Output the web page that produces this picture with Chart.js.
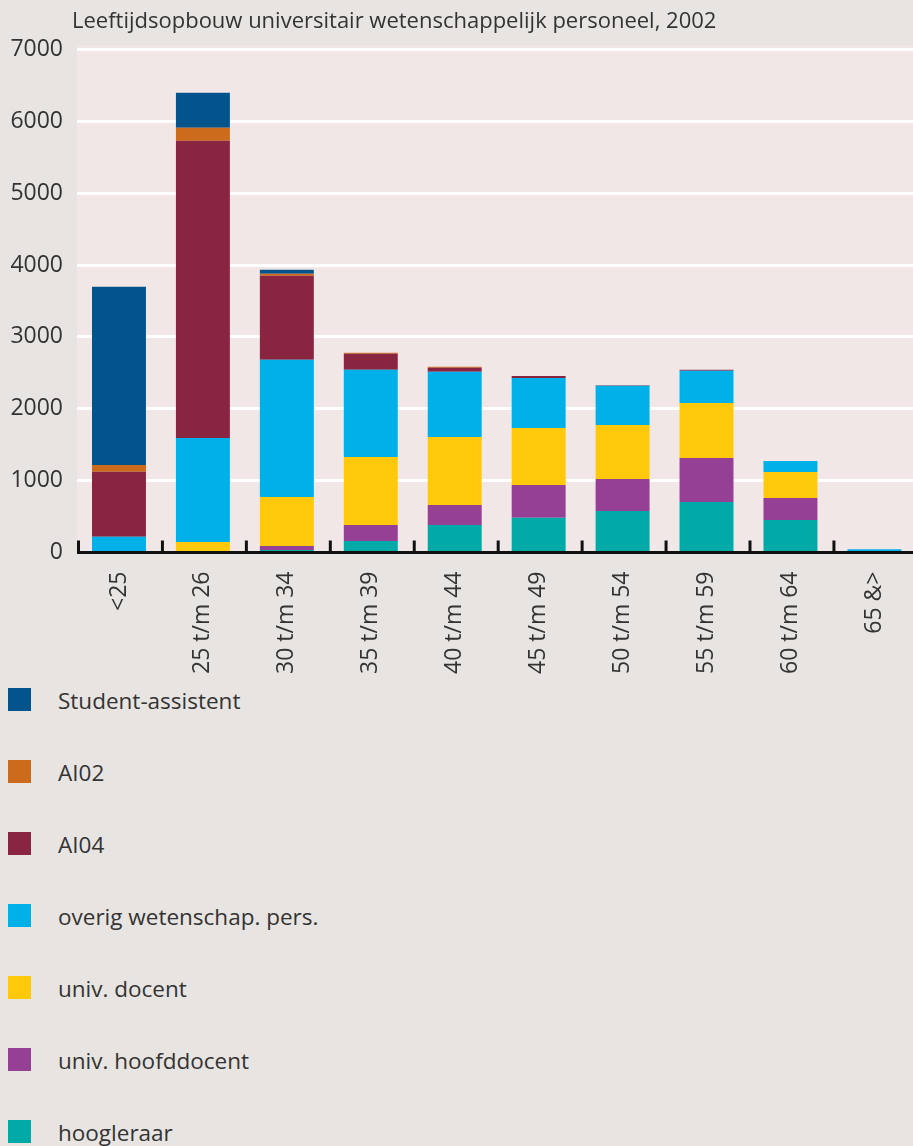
<!DOCTYPE html>
<html>
<head>
<meta charset="utf-8">
<script src="https://cdn.jsdelivr.net/npm/chart.js@4/dist/chart.umd.min.js"></script>
<style>
  html, body { margin: 0; padding: 0; background: #e8e4e1; overflow: hidden; width: 913px; height: 1146px; }
  #wrap { position: relative; width: 913px; height: 1146px; overflow: hidden; }
  #title { position: absolute; left: 72px; top: 4px; font-family: "Open Sans", sans-serif; font-size: 22px; color: #333; white-space: nowrap; }
  canvas { position: absolute; left: 0; top: 0; }
  #legend { position: absolute; left: 0; top: 0; font-family: "Open Sans", sans-serif; font-size: 22.5px; color: #333; }
  .li { position: absolute; left: 0; height: 24px; white-space: nowrap; }
  .sw { position: absolute; left: 8px; top: 0; width: 23px; height: 23px; }
  .tx { position: absolute; left: 58px; top: 0px; line-height: 26px; }
</style>
</head>
<body>
<div id="wrap">
  <canvas id="c" width="921" height="680"></canvas>
  <div id="title">Leeftijdsopbouw universitair wetenschappelijk personeel, 2002</div>
  <div id="legend"></div>
</div>
<script>
const categories = ['<25', '25 t/m 26', '30 t/m 34', '35 t/m 39', '40 t/m 44', '45 t/m 49', '50 t/m 54', '55 t/m 59', '60 t/m 64', '65 &>'];
const hoogleraar       = [0, 0, 35, 160, 383, 485, 578, 703, 453, 0];
const hoofddocent      = [0, 0, 55, 223, 279, 455, 446, 613, 306, 0];
const docent           = [0, 146, 683, 947, 947, 794, 752, 766, 362, 0];
const overig           = [220, 1449, 1908, 1212, 905, 696, 543, 446, 153, 45];
const aio4             = [905, 4136, 1170, 223, 56, 28, 10, 14, 0, 0];
const aio2             = [94, 181, 28, 14, 14, 0, 0, 0, 0, 0];
const studentAssistent = [2479, 488, 56, 0, 0, 0, 0, 0, 0, 0];
const yTicks = [0, 1000, 2000, 3000, 4000, 5000, 6000, 7000];

const series = [
  { label: 'hoogleraar', data: hoogleraar, color: '#01aaa7' },
  { label: 'univ. hoofddocent', data: hoofddocent, color: '#964095' },
  { label: 'univ. docent', data: docent, color: '#ffc90b' },
  { label: 'overig wetenschap. pers.', data: overig, color: '#00b1e9' },
  { label: 'AI04', data: aio4, color: '#892540' },
  { label: 'AI02', data: aio2, color: '#cd6b1c' },
  { label: 'Student-assistent', data: studentAssistent, color: '#03548c' }
];

const bgPlugin = {
  id: 'bg',
  beforeDraw(chart) {
    const { ctx, chartArea: a } = chart;
    ctx.save();
    ctx.fillStyle = '#f2e7e7';
    ctx.fillRect(a.left, a.top, a.right - a.left, a.bottom - a.top);
    ctx.restore();
  }
};

const axisPlugin = {
  id: 'axisLine',
  afterDatasetsDraw(chart) {
    const { ctx, chartArea: a, scales: { x, y } } = chart;
    const y0 = y.getPixelForValue(0);
    const step = x.getPixelForTick(1) - x.getPixelForTick(0);
    ctx.save();
    ctx.strokeStyle = '#111';
    ctx.lineWidth = 3;
    ctx.beginPath();
    ctx.moveTo(a.left, y0);
    ctx.lineTo(a.right, y0);
    ctx.stroke();
    const n = categories.length;
    for (let i = 0; i <= n; i++) {
      const px = (i < n ? x.getPixelForTick(i) : x.getPixelForTick(n - 1) + step) - step / 2;
      ctx.beginPath();
      ctx.moveTo(px + 1.5, y0);
      ctx.lineTo(px + 1.5, y0 - 12);
      ctx.stroke();
    }
    ctx.restore();
  }
};

const chart = new Chart(document.getElementById('c'), {
  type: 'bar',
  data: {
    labels: categories,
    datasets: series.map(s => ({
      label: s.label,
      data: s.data,
      backgroundColor: s.color,
      borderWidth: 0,
      barPercentage: 54 / 84,
      categoryPercentage: 1
    }))
  },
  options: {
    responsive: false,
    animation: false,
    devicePixelRatio: 1,
    layout: { padding: { top: 45, left: 0, right: 0, bottom: 0 } },
    plugins: {
      legend: { display: false },
      title: { display: false },
      tooltip: { enabled: false }
    },
    scales: {
      x: {
        stacked: true,
        grid: { display: false, drawTicks: false },
        border: { display: false },
        ticks: {
          autoSkip: false,
          minRotation: 90,
          maxRotation: 90,
          padding: 19,
          color: '#333',
          font: { family: 'Open Sans', size: 23 }
        },
        afterFit(scale) { scale.height = 127.5; }
      },
      y: {
        stacked: true,
        min: 0,
        max: 7063,
        afterBuildTicks(scale) { scale.ticks = yTicks.map(v => ({ value: v })); },
        grid: { color: '#ffffff', lineWidth: 3, drawTicks: false },
        border: { display: false },
        ticks: {
          padding: 14,
          color: '#333',
          font: { family: 'Open Sans', size: 23 },
          callback: v => String(v)
        },
        afterFit(scale) { scale.width = 77; }
      }
    }
  },
  plugins: [bgPlugin, axisPlugin]
});

// HTML legend built from the chart's datasets (top-to-bottom = reverse stacking order)
const legend = document.getElementById('legend');
const items = chart.options.plugins.legend.labels.generateLabels(chart).slice().reverse();
items.forEach((it, i) => {
  const d = document.createElement('div');
  d.className = 'li';
  d.style.top = (688 + 72 * i) + 'px';
  const sw = document.createElement('div');
  sw.className = 'sw';
  sw.style.background = it.fillStyle;
  const tx = document.createElement('div');
  tx.className = 'tx';
  tx.textContent = it.text;
  d.appendChild(sw);
  d.appendChild(tx);
  legend.appendChild(d);
});
</script>
</body>
</html>
